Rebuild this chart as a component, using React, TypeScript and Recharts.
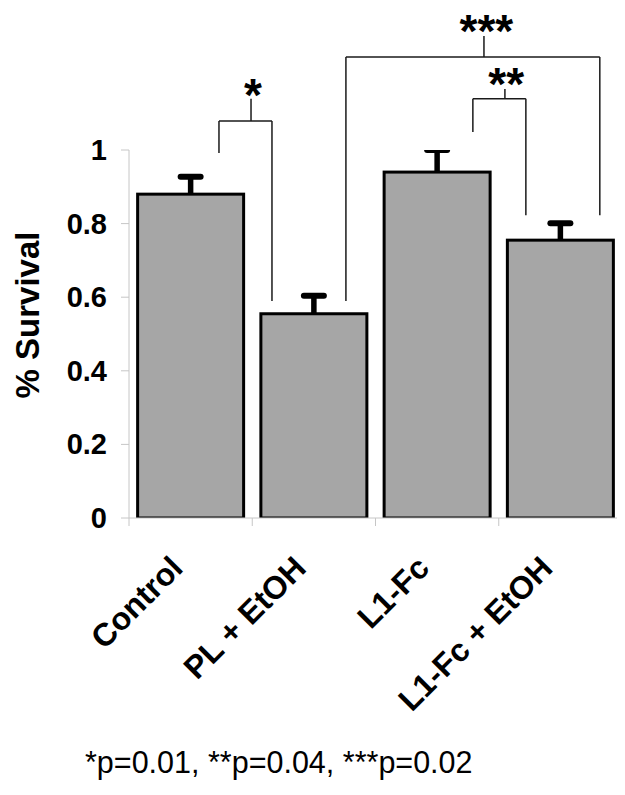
import React from 'react';
import {
  BarChart,
  Bar,
  XAxis,
  YAxis,
  ReferenceLine,
  ReferenceDot,
} from 'recharts';

const categories = ['Control', 'PL + EtOH', 'L1-Fc', 'L1-Fc + EtOH'];
const survival = [0.88, 0.555, 0.94, 0.755];
const sem = [0.047, 0.049, 0.06, 0.046];
const yTicks = [0, 0.2, 0.4, 0.6, 0.8, 1];

// significance brackets, in (category-index, survival) units
const bracketStars = ['*', '**', '***'];
const bracketLeftX = [0.73, 2.79, 1.76];
const bracketRightX = [1.16, 3.22, 3.82];
const bracketTopY = [1.079, 1.139, 1.253];
const bracketLeftBottomY = [0.992, 1.049, 0.59];
const bracketRightBottomY = [0.59, 0.823, 0.823];
const bracketStemX = [0.99, 3.05, 2.88];
const bracketStemTopY = [1.139, 1.166, 1.31];
const bracketStarX = [1.006, 3.06, 2.9];
const bracketStarBaseY = [1.106, 1.136, 1.28];

const footnote = '*p=0.01, **p=0.04, ***p=0.02';

const data = categories.map((name, i) => ({
  name,
  pos: i + 0.5,
  value: survival[i],
  sem: sem[i],
}));

const FONT = "Arial, 'Liberation Sans', Helvetica, sans-serif";
const AXIS_GRAY = '#c6c6c6';

const XTick = (props: any) => {
  const { x, y, payload, index } = props;
  const off = payload && payload.offset ? payload.offset : 61.6;
  const isLast = index === categories.length - 1;
  const tx = x - 6;
  const ty = y + 52;
  return (
    <g>
      <line x1={x - off} y1={y} x2={x - off} y2={y + 8} stroke={AXIS_GRAY} strokeWidth={1} />
      {isLast && (
        <line x1={x + off} y1={y} x2={x + off} y2={y + 8} stroke={AXIS_GRAY} strokeWidth={1} />
      )}
      <text
        x={tx}
        y={ty}
        transform={`rotate(-45, ${tx}, ${ty})`}
        textAnchor="end"
        fontFamily={FONT}
        fontWeight="bold"
        fontSize={32}
        fill="#000"
      >
        {payload.value}
      </text>
    </g>
  );
};

const YTick = (props: any) => {
  const { x, y, payload } = props;
  return (
    <text
      x={x}
      y={y}
      dy={10}
      textAnchor="end"
      fontFamily={FONT}
      fontWeight="bold"
      fontSize={29}
      fill="#000"
    >
      {payload.value}
    </text>
  );
};

const YLabel = (props: any) => {
  const vb = props.viewBox || { x: 0, y: 142, width: 121, height: 368 };
  const cx = vb.x + 31;
  const cy = vb.y + vb.height / 2 - 19;
  return (
    <text
      x={cx}
      y={cy}
      transform={`rotate(-90, ${cx}, ${cy})`}
      textAnchor="middle"
      fontFamily={FONT}
      fontWeight="bold"
      fontSize={33}
      fill="#000"
    >
      % Survival
    </text>
  );
};

// bar with an upper-only error bar; the error length comes from the bar's own scale
const BarWithError = (props: any) => {
  const { x, y, width, height, payload, fill } = props;
  const pxPerUnit = payload.value ? height / payload.value : 0;
  const errPx = payload.sem * pxPerUnit;
  const cx = x + width / 2;
  const top = y - errPx;
  return (
    <g>
      <rect x={x} y={y} width={width} height={height} fill={fill} stroke="#000" strokeWidth={3} />
      <line x1={cx} y1={y} x2={cx} y2={top} stroke="#000" strokeWidth={5.5} />
      <line
        x1={cx - 10}
        y1={top}
        x2={cx + 10}
        y2={top}
        stroke="#000"
        strokeWidth={6}
        strokeLinecap="round"
      />
    </g>
  );
};

const starShape = (text: string) => (p: any) => (
  <text
    x={p.cx}
    y={p.cy}
    textAnchor="middle"
    fontFamily={FONT}
    fontWeight="bold"
    fontSize={46}
    fill="#000"
  >
    {text}
  </text>
);

const LINE = '#1a1a1a';

export default function App() {
  const brackets: React.ReactNode[] = [];
  bracketStars.forEach((s, i) => {
    const common = {
      xAxisId: 'n',
      ifOverflow: 'visible' as const,
      stroke: LINE,
      strokeWidth: 1.5,
    };
    brackets.push(
      <ReferenceLine
        key={`t${i}`}
        {...common}
        segment={[
          { x: bracketLeftX[i], y: bracketTopY[i] },
          { x: bracketRightX[i], y: bracketTopY[i] },
        ]}
      />,
      <ReferenceLine
        key={`l${i}`}
        {...common}
        segment={[
          { x: bracketLeftX[i], y: bracketTopY[i] },
          { x: bracketLeftX[i], y: bracketLeftBottomY[i] },
        ]}
      />,
      <ReferenceLine
        key={`r${i}`}
        {...common}
        segment={[
          { x: bracketRightX[i], y: bracketTopY[i] },
          { x: bracketRightX[i], y: bracketRightBottomY[i] },
        ]}
      />,
      <ReferenceLine
        key={`s${i}`}
        {...common}
        segment={[
          { x: bracketStemX[i], y: bracketTopY[i] },
          { x: bracketStemX[i], y: bracketStemTopY[i] },
        ]}
      />,
      <ReferenceDot
        key={`d${i}`}
        xAxisId="n"
        x={bracketStarX[i]}
        y={bracketStarBaseY[i]}
        ifOverflow="visible"
        shape={starShape(s)}
      />
    );
  });

  return (
    <div style={{ position: 'relative', width: 617, height: 787 }}>
      <style>{`svg { overflow: visible; }`}</style>
      <BarChart
        width={617}
        height={730}
        data={data}
        margin={{ top: 142, right: 3, bottom: 70, left: 0 }}
        barCategoryGap="7%"
      >
        <XAxis
          dataKey="name"
          type="category"
          height={150}
          axisLine={{ stroke: AXIS_GRAY, strokeWidth: 1 }}
          tickLine={false}
          tickSize={0}
          tickMargin={0}
          interval={0}
          tick={<XTick />}
        />
        <XAxis
          xAxisId="n"
          dataKey="pos"
          type="number"
          scale="linear"
          domain={[0, 4]}
          hide
          allowDataOverflow
        />
        <YAxis
          type="number"
          domain={[0, 1]}
          ticks={yTicks}
          width={121}
          axisLine={{ stroke: AXIS_GRAY, strokeWidth: 1 }}
          tickLine={{ stroke: AXIS_GRAY, strokeWidth: 1 }}
          tickSize={8}
          tickMargin={14}
          tick={<YTick />}
          label={<YLabel />}
          allowDataOverflow
        />
        <Bar
          dataKey="value"
          fill="#a6a6a6"
          shape={<BarWithError />}
          isAnimationActive={false}
        />
        {brackets}
      </BarChart>
      <div
        style={{
          position: 'absolute',
          left: 77,
          top: 739,
          fontFamily: FONT,
          fontSize: 30.5,
          lineHeight: '30.5px',
          whiteSpace: 'nowrap',
          color: '#000',
        }}
      >
        {footnote}
      </div>
    </div>
  );
}
